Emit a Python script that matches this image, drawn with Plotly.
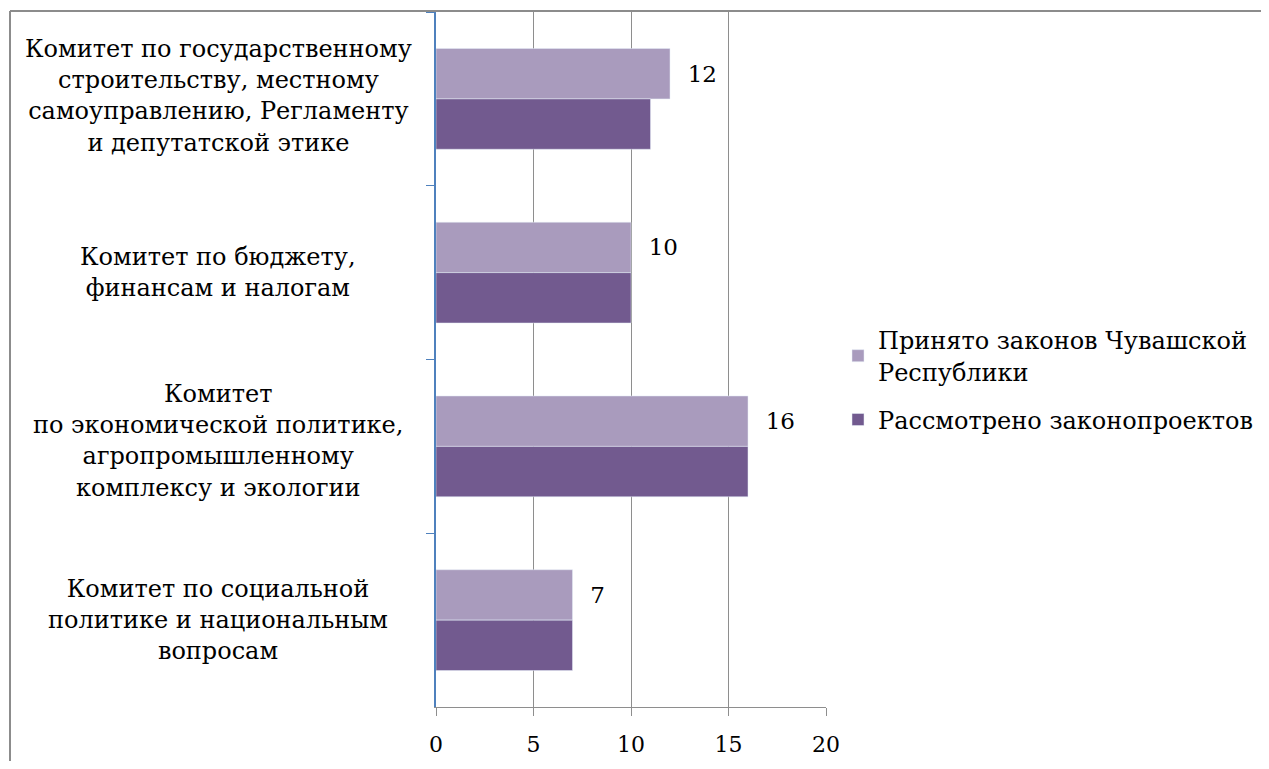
import plotly.graph_objects as go

categories = [
    "Комитет по государственному<br>строительству, местному<br>самоуправлению, Регламенту<br>и депутатской этике",
    "Комитет по бюджету,<br>финансам и налогам",
    "Комитет<br>по экономической политике,<br>агропромышленному<br>комплексу и экологии",
    "Комитет по социальной<br>политике и национальным<br>вопросам",
]
cat_keys = ["c1", "c2", "c3", "c4"]
prinyato = [12, 10, 16, 7]
rassmotreno = [11, 10, 16, 7]
series_names = ["Принято законов Чувашской<br>Республики", "Рассмотрено законопроектов"]
x_ticks = [0, 5, 10, 15, 20]

FONT = "DejaVu Serif"
OFF = 8  # page body margin
W, H = 1269 - 2 * OFF, 769 - 2 * OFF
L, R, T, B = 436 - OFF, 826 - OFF, 12 - OFF, 707 - OFF
FS = 24
FS_TICK = 22

fig = go.Figure()
fig.add_trace(go.Bar(
    y=cat_keys, x=prinyato, orientation="h", name=series_names[0],
    legendgroup="g1",
    marker=dict(color="#A99BBD"),
    texttemplate="\u00a0\u00a0%{x}", textposition="outside",
    textfont=dict(family=FONT, size=23, color="black"),
    constraintext="none", cliponaxis=False,
))
fig.add_trace(go.Bar(
    y=cat_keys, x=rassmotreno, orientation="h", name=series_names[1],
    legendgroup="g2",
    marker=dict(color="#725A8F"),
))

label_shift = [3, 0, 5, 0]
annotations = []
for key, label, s in zip(cat_keys, categories, label_shift):
    annotations.append(dict(
        x=(218 - OFF - L) / (R - L), xref="paper", y=key, yref="y",
        text=label, showarrow=False, xanchor="center", yanchor="middle",
        align="center", yshift=s,
        font=dict(family=FONT, size=FS, color="black"),
    ))

gray = "#8C8C8C"
px = lambda v: (v - OFF - L) / (R - L)
py = lambda v: (B - (v - OFF)) / (B - T)
shapes = [
    dict(type="line", xref="paper", yref="paper",
         x0=px(10), x1=px(1300), y0=py(11), y1=py(11),
         line=dict(color=gray, width=2)),
    dict(type="line", xref="paper", yref="paper",
         x0=px(10), x1=px(10), y0=py(11), y1=py(800),
         line=dict(color=gray, width=2)),
]

fig.update_layout(
    width=W, height=H,
    margin=dict(l=L, r=W - R, t=T, b=H - B, autoexpand=False),
    paper_bgcolor="white", plot_bgcolor="white",
    barmode="group", bargap=0.42, bargroupgap=0,
    font=dict(family=FONT, size=FS, color="black"),
    xaxis=dict(
        range=[0, 20], tickvals=x_ticks, showgrid=True, gridcolor="#8E8E8E",
        gridwidth=1, zeroline=False, showline=True, linecolor="#8E8E8E",
        ticks="outside", ticklen=8, tickcolor="#8E8E8E",
        ticklabelstandoff=10,
        tickfont=dict(family=FONT, size=FS_TICK, color="black"),
    ),
    yaxis=dict(
        type="category", autorange="reversed", showticklabels=False,
        showline=True, linecolor="#4F81BD", linewidth=1.5, layer="above traces",
        ticks="outside", tickson="boundaries", ticklen=8, tickcolor="#4F81BD",
        showgrid=False, zeroline=False,
    ),
    legend=dict(
        x=px(838), xanchor="left",
        y=py(380), yanchor="middle",
        font=dict(family=FONT, size=FS, color="black"),
        bgcolor="rgba(0,0,0,0)", traceorder="grouped", tracegroupgap=14,
    ),
    showlegend=True,
    annotations=annotations,
    shapes=shapes,
)

fig.write_html("out.html")
